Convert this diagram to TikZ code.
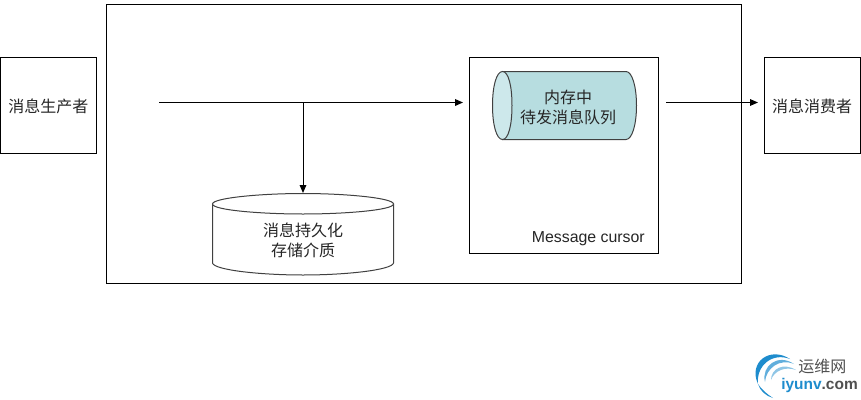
\documentclass[tikz,border=0pt]{standalone}
\usepackage{fontspec}
\setmainfont{Liberation Sans}
\newfontfamily\cjk{Noto Sans CJK SC}
\usetikzlibrary{arrows.meta}
\definecolor{qfill}{RGB}{183,221,224}
\definecolor{qcap}{RGB}{205,232,235}
\definecolor{logob}{RGB}{30,140,205}
\definecolor{logot}{RGB}{80,80,80}
\tikzset{
  box/.style={draw=black,line width=0.75pt,fill=white,inner sep=0pt,outer sep=0pt},
  txt/.style={font=\cjk\fontsize{12pt}{15pt}\selectfont,align=center,inner sep=0pt,text=black!85},
  conn/.style={draw=black,line width=0.85pt,-{Triangle[length=6pt,width=5pt]}},
  shapeline/.style={draw=black!75!white,line width=0.75pt}
}
\begin{document}
\begin{tikzpicture}[x=0.75pt,y=-0.75pt]
\useasboundingbox (0,0) rectangle (861,400);
% boxes
\node[box,minimum width=72pt,minimum height=72pt,anchor=north west] (prod) at (0.5,57.5) {};
\node[txt] (prodt) at (48.5,106.5) {消息生产者};
\node[box,minimum width=476.25pt,minimum height=209.25pt,anchor=north west] (broker) at (106.5,4.5) {};
\node[box,minimum width=141.75pt,minimum height=147pt,anchor=north west] (cursor) at (469.5,57.5) {};
\node[box,minimum width=72pt,minimum height=72pt,anchor=north west] (cons) at (764.5,57.5) {};
\node[txt] (const) at (812,106.5) {消息消费者};
\node[font=\fontsize{11.9pt}{13pt}\selectfont,text=black!85,inner sep=0pt,anchor=east] (mc) at (645,239) {Message cursor};
% memory queue cylinder
\path[shapeline,fill=qfill] (502.5,71.5) -- (626,71.5) .. controls (632,71.5) and (636.5,86) .. (636.5,105.5) .. controls (636.5,125) and (632,139.5) .. (626,139.5) -- (502.5,139.5) -- cycle;
\path[shapeline,fill=qcap] (502.5,71.5) .. controls (496.5,71.5) and (492.5,86) .. (492.5,105.5) .. controls (492.5,125) and (496.5,139.5) .. (502.5,139.5) .. controls (508.5,139.5) and (512,125) .. (512,105.5) .. controls (512,86) and (508.5,71.5) .. (502.5,71.5) -- cycle;
\node[txt] (q) at (568,107) {内存中\\待发消息队列};
% storage cylinder
\path[shapeline,fill=white] (212.5,204) -- (212.5,263) .. controls (214,270) and (260,275) .. (303,275) .. controls (346,275) and (392,270) .. (393.5,263) -- (393.5,204) -- cycle;
\path[shapeline,fill=white] (212.5,204) .. controls (212.5,198) and (260,193.5) .. (303,193.5) .. controls (346,193.5) and (393.5,198) .. (393.5,204) .. controls (393.5,210) and (346,214) .. (303,214) .. controls (260,214) and (212.5,210) .. (212.5,204) -- cycle;
\coordinate (stTop) at (303,193);
\node[txt] (st) at (303,240) {消息持久化\\存储介质};
% connectors
\coordinate (a0) at (159,102.5);
\coordinate (a1) at (463,102.5);
\coordinate (j) at (303,102.5);
\coordinate (b0) at (666,102.5);
\coordinate (b1) at (758,102.5);
\draw[conn,line width=1pt] (a0) -- (a1);
\draw[conn,line width=0.75pt] (j) -- (stTop);
\draw[conn,line width=0.75pt] (b0) -- (b1);
% logo
\fill[logob] (790,359) .. controls (770,346) and (748,362) .. (758,384) .. controls (756,366) and (772,352) .. (790,359) -- cycle;
\fill[logob!70!white] (794,364) .. controls (778,353) and (761,366) .. (765,382) .. controls (766,368) and (780,358) .. (794,364) -- cycle;
\fill[logob!50!white] (796,370) .. controls (783,362) and (771,369) .. (771,380) .. controls (774,371) and (785,366) .. (796,370) -- cycle;
\fill[logob] (758,384) .. controls (760,391) and (766,396) .. (773,398) .. controls (767,394) and (762,390) .. (758,384) -- cycle;
\node[font=\cjk\fontsize{12pt}{13pt}\selectfont,text=logot,inner sep=0pt,anchor=west] (lg1) at (798,366) {运维网};
\node[font=\bfseries\fontsize{11.6pt}{13pt}\selectfont,text=logot,inner sep=0pt,anchor=west] (lg2) at (781,385) {\textcolor{logob}{iyunv}.com};
\end{tikzpicture}
\end{document}
